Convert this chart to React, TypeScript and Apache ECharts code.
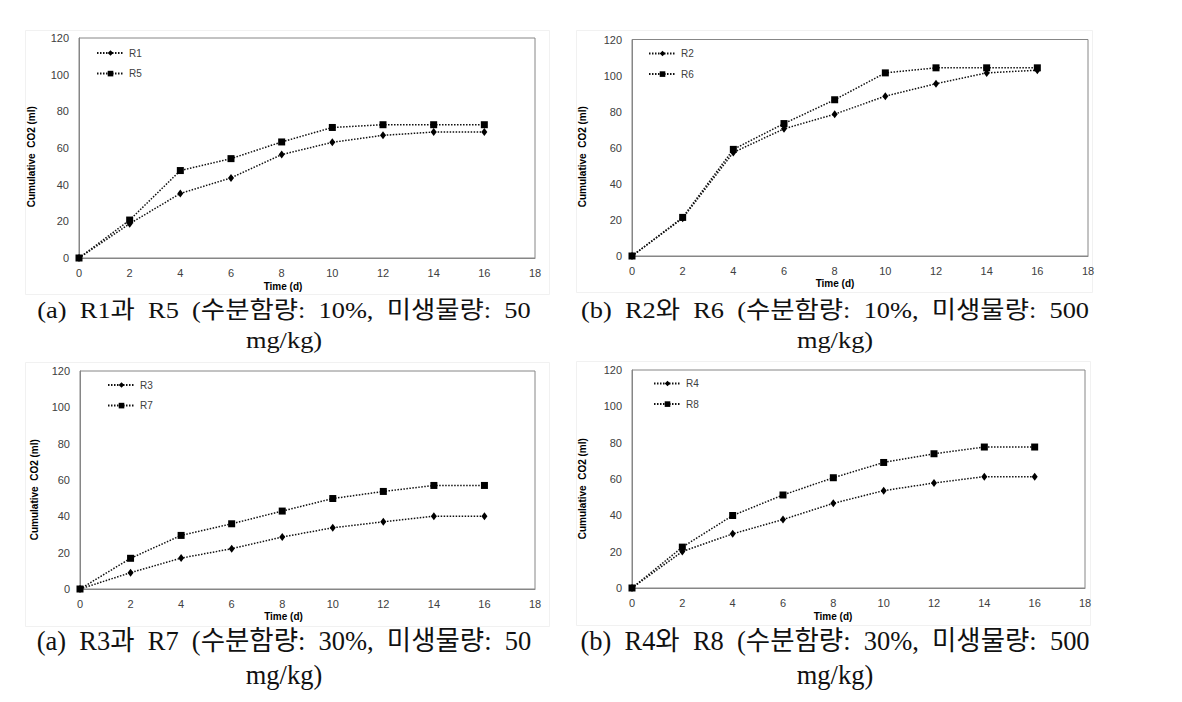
import React, { useEffect, useRef } from "react";
import * as echarts from "echarts";

const days = [0, 2, 4, 6, 8, 10, 12, 14, 16];
const r1 = [0, 18.7, 35.2, 43.7, 56.4, 63.1, 66.9, 68.7, 68.7];
const r5 = [0, 20.7, 47.7, 54.2, 63.3, 71.2, 72.7, 72.7, 72.7];
const r2 = [0, 20.9, 57.4, 70.5, 78.6, 88.6, 95.5, 101.5, 103];
const r6 = [0, 21.4, 59.1, 73.4, 86.6, 101.5, 104.3, 104.3, 104.3];
const r3 = [0, 9.0, 17.0, 22.2, 28.6, 33.7, 37.0, 40.1, 40.1];
const r7 = [0, 16.9, 29.5, 35.9, 42.9, 49.8, 53.7, 57.0, 57.0];
const r4 = [0, 20.1, 29.8, 37.7, 46.6, 53.6, 57.8, 61.3, 61.3];
const r8 = [0, 22.5, 39.9, 51.2, 60.7, 69.1, 73.9, 77.6, 77.6];

const seriesNames = [["R1", "R5"], ["R2", "R6"], ["R3", "R7"], ["R4", "R8"]];
const seriesValues = [[r1, r5], [r2, r6], [r3, r7], [r4, r8]];

const xTitle = "Time (d)";
const yTitle = "Cumulative  CO2 (ml)";
const SP = "\u2002";
const captions = [
  [`(a)${SP}R1과${SP}R5${SP}(수분함량:${SP}10%,${SP}미생물량:${SP}50`, "mg/kg)"],
  [`(b)${SP}R2와${SP}R6${SP}(수분함량:${SP}10%,${SP}미생물량:${SP}500`, "mg/kg)"],
  [`(a)${SP}R3과${SP}R7${SP}(수분함량:${SP}30%,${SP}미생물량:${SP}50`, "mg/kg)"],
  [`(b)${SP}R4와${SP}R8${SP}(수분함량:${SP}30%,${SP}미생물량:${SP}500`, "mg/kg)"],
];

// layout (pixels)
const grids = [
  { left: 79, top: 38, width: 456, height: 220 },
  { left: 632, top: 39.5, width: 456, height: 216.5 },
  { left: 80, top: 371, width: 455, height: 218 },
  { left: 632, top: 370, width: 453, height: 218 },
];
const frames = [
  { x: 25, y: 30, width: 524, height: 264 },
  { x: 576, y: 30, width: 516, height: 262 },
  { x: 25, y: 362, width: 524, height: 264 },
  { x: 576, y: 361, width: 514, height: 264 },
];
const legendPos = [
  { left: 91, top: 42 },
  { left: 643, top: 42.5 },
  { left: 102, top: 374 },
  { left: 648, top: 372.5 },
];
const xTitlePos = [
  { x: 283, y: 286 },
  { x: 835, y: 283.3 },
  { x: 283.5, y: 616.7 },
  { x: 833, y: 616 },
];
const yTitlePos = [
  { x: 31.5, y: 156.7 },
  { x: 582.5, y: 156.7 },
  { x: 34, y: 489.7 },
  { x: 582.5, y: 488.7 },
];
const captionPos = [
  { x: 284, y1: 310, y2: 340, size: 24, sx: 1.1 },
  { x: 835, y1: 310, y2: 340, size: 24, sx: 1.1 },
  { x: 284, y1: 641, y2: 675, size: 27, sx: 0.98 },
  { x: 835, y1: 641, y2: 675, size: 27, sx: 0.98 },
];

const LABEL_FONT = '"Liberation Sans", Arial, sans-serif';
const CAPTION_FONT = '"Liberation Serif", "Noto Sans CJK KR", serif';

export default function App() {
  const ref = useRef<HTMLDivElement>(null);

  useEffect(() => {
    document.body.style.margin = "0";
    if (!ref.current) return;
    const chart = echarts.init(ref.current, undefined, { renderer: "svg" });

    const option: any = {
      animation: false,
      backgroundColor: "#ffffff",
      grid: grids.map((g) => ({
        ...g,
        show: true,
        borderColor: "#868686",
        borderWidth: 1,
        backgroundColor: "transparent",
        containLabel: false,
      })),
      xAxis: grids.map((_, i) => ({
        type: "value",
        gridIndex: i,
        min: 0,
        max: 18,
        interval: 2,
        axisLine: { show: true, onZero: false, lineStyle: { color: "#868686", width: 1 } },
        axisTick: { show: false },
        splitLine: { show: false },
        axisLabel: { color: "#404040", fontSize: 11, fontFamily: LABEL_FONT, margin: 9 },
      })),
      yAxis: grids.map((_, i) => ({
        type: "value",
        gridIndex: i,
        min: 0,
        max: 120,
        interval: 20,
        axisLine: { show: true, lineStyle: { color: "#868686", width: 1 } },
        axisTick: { show: false },
        splitLine: { show: false },
        axisLabel: { color: "#404040", fontSize: 11, fontFamily: LABEL_FONT, margin: 10 },
      })),
      legend: seriesNames.map((names, i) => ({
        data: names,
        orient: "vertical",
        left: legendPos[i].left,
        top: legendPos[i].top,
        itemWidth: 27,
        itemHeight: 7,
        itemGap: 8.6,
        selectedMode: false,
        textStyle: { color: "#404040", fontSize: 10, fontFamily: LABEL_FONT, lineHeight: 12 },
      })),
      series: seriesNames.flatMap((names, i) =>
        names.map((name, j) => ({
          name,
          type: "line",
          xAxisIndex: i,
          yAxisIndex: i,
          data: days.map((d, k) => [d, seriesValues[i][j][k]]),
          symbol: j === 0 ? "diamond" : "rect",
          symbolSize: j === 0 ? [6, 8] : 7,
          showAllSymbol: true,
          lineStyle: { color: "#111", width: 1.5, type: [1.5, 1.5] },
          itemStyle: { color: "#000" },
          z: 2 + j,
        }))
      ),
      graphic: [
        ...frames.map((f) => ({
          type: "rect",
          silent: true,
          z: -1,
          shape: { x: f.x + 0.5, y: f.y + 0.5, width: f.width, height: f.height },
          style: { fill: "none", stroke: "#f1f1f1", lineWidth: 1 },
        })),
        ...xTitlePos.map((p) => ({
          type: "text",
          x: p.x,
          y: p.y,
          silent: true,
          style: {
            text: xTitle,
            font: `bold 10px ${LABEL_FONT}`,
            fill: "#000",
            textAlign: "center",
            textVerticalAlign: "middle",
          },
        })),
        ...yTitlePos.map((p) => ({
          type: "text",
          x: p.x,
          y: p.y,
          rotation: Math.PI / 2,
          silent: true,
          style: {
            text: yTitle,
            font: `bold 10px ${LABEL_FONT}`,
            fill: "#000",
            textAlign: "center",
            textVerticalAlign: "middle",
          },
        })),
        ...captionPos.flatMap((p, i) => [
          {
            type: "text",
            x: p.x,
            y: p.y1,
            scaleX: p.sx,
            silent: true,
            style: {
              text: captions[i][0],
              font: `${p.size}px ${CAPTION_FONT}`,
              fill: "#111",
              textAlign: "center",
              textVerticalAlign: "middle",
            },
          },
          {
            type: "text",
            x: p.x,
            y: p.y2,
            scaleX: p.sx,
            silent: true,
            style: {
              text: captions[i][1],
              font: `${p.size}px ${CAPTION_FONT}`,
              fill: "#111",
              textAlign: "center",
              textVerticalAlign: "middle",
            },
          },
        ]),
      ],
    };

    chart.setOption(option);
    return () => {
      chart.dispose();
    };
  }, []);

  return <div ref={ref} style={{ width: 1182, height: 702 }} />;
}
